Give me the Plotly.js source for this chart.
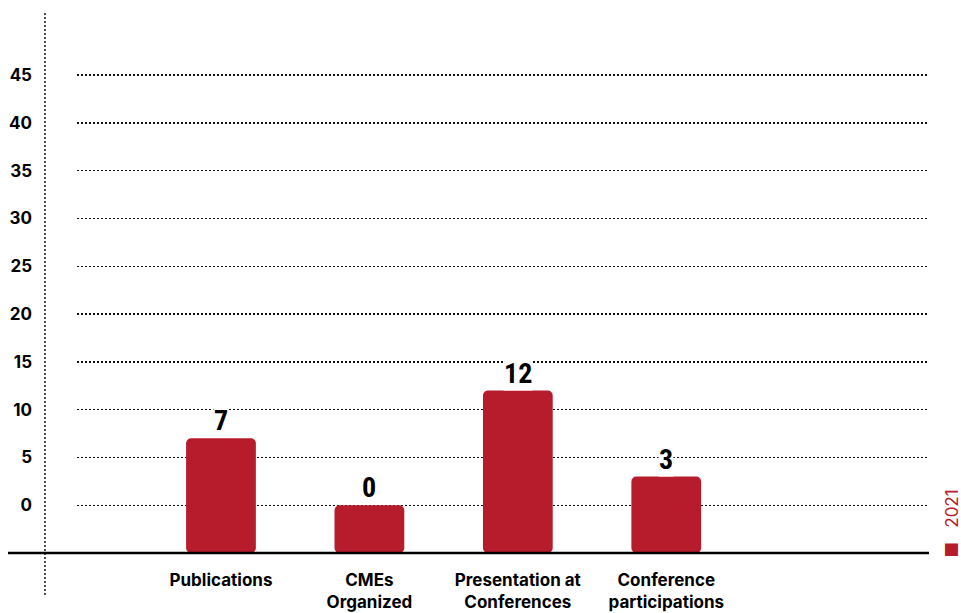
<!DOCTYPE html>
<html>
<head>
<meta charset="utf-8">
<script src="https://cdn.plot.ly/plotly-3.0.1.min.js"></script>
<style>html,body{margin:0;padding:0;background:#fff;}#chart{width:961px;height:613px;}</style>
</head>
<body>
<div id="chart"></div>
<script>
const categories = ["Publications", "CMEs<br>Organized", "Presentation at<br>Conferences", "Conference<br>participations"];
const values2021 = [7, 0, 12, 3];
const seriesName = "2021";
const yTickVals = [0, 5, 10, 15, 20, 25, 30, 35, 40, 45];
const yTickText = ["0", "5", "10", "15", "20", "25", "30", "35", "40", "45"];

const barBase = -5;
const red = "#b61c2b";

const trace = {
  type: "bar",
  name: seriesName,
  x: categories,
  y: values2021.map(v => v - barBase),
  base: barBase,
  width: 0.47,
  marker: { color: red, cornerradius: 5 },
  hoverinfo: "skip",
  showlegend: false
};

const labelAnnotations = categories.map((c, i) => ({
  x: c, y: values2021[i], xref: "x", yref: "y",
  text: '<span style="font-stretch:75%">' + String(values2021[i]) + '</span>',
  showarrow: false, yanchor: "bottom", xanchor: "center",
  bgcolor: "#ffffff", borderpad: 0, yshift: 0,
  font: { family: "Roboto, 'Open Sans', sans-serif", size: 28, color: "#000", weight: 700 }
}));

const layout = {
  width: 961, height: 613,
  margin: { l: 77, r: 32, t: 56, b: 60 },
  paper_bgcolor: "#fff", plot_bgcolor: "#fff",
  showlegend: false,
  font: { family: "Inter, 'Open Sans', sans-serif", color: "#000" },
  xaxis: {
    type: "category",
    range: [-0.97, 4.77],
    showgrid: false, showline: false, zeroline: false, ticks: "",
    tickfont: { family: "Inter, sans-serif", size: 17, color: "#000", weight: 700 },
    ticklabelstandoff: 15
  },
  yaxis: {
    range: [-5, 47],
    tickvals: yTickVals, ticktext: yTickText,
    showgrid: true, gridcolor: "#111", gridwidth: 1.3, griddash: "2px,2px",
    zeroline: false, showline: false, ticks: "",
    tickfont: { family: "Inter, sans-serif", size: 17, color: "#000", weight: 700 },
    ticklabelstandoff: 44
  },
  shapes: [
    { type: "line", xref: "paper", yref: "paper", x0: -0.0376, x1: -0.0376, y0: -0.0845, y1: 1.0865,
      line: { color: "#111", width: 1.5, dash: "2px,2px" } },
    { type: "line", xref: "paper", yref: "paper", x0: -0.081, x1: 1.0, y0: 0, y1: 0,
      line: { color: "#000", width: 2.5 } }
  ],
  annotations: labelAnnotations.concat([
    { xref: "paper", yref: "paper", x: 1.0275, y: 0.06, xanchor: "center", yanchor: "middle",
      text: "■   " + seriesName, textangle: -90, showarrow: false,
      font: { family: "Inter, sans-serif", size: 17, color: red } }
  ])
};

Plotly.newPlot("chart", [trace], layout, { displayModeBar: false, staticPlot: true });
</script>
</body>
</html>
